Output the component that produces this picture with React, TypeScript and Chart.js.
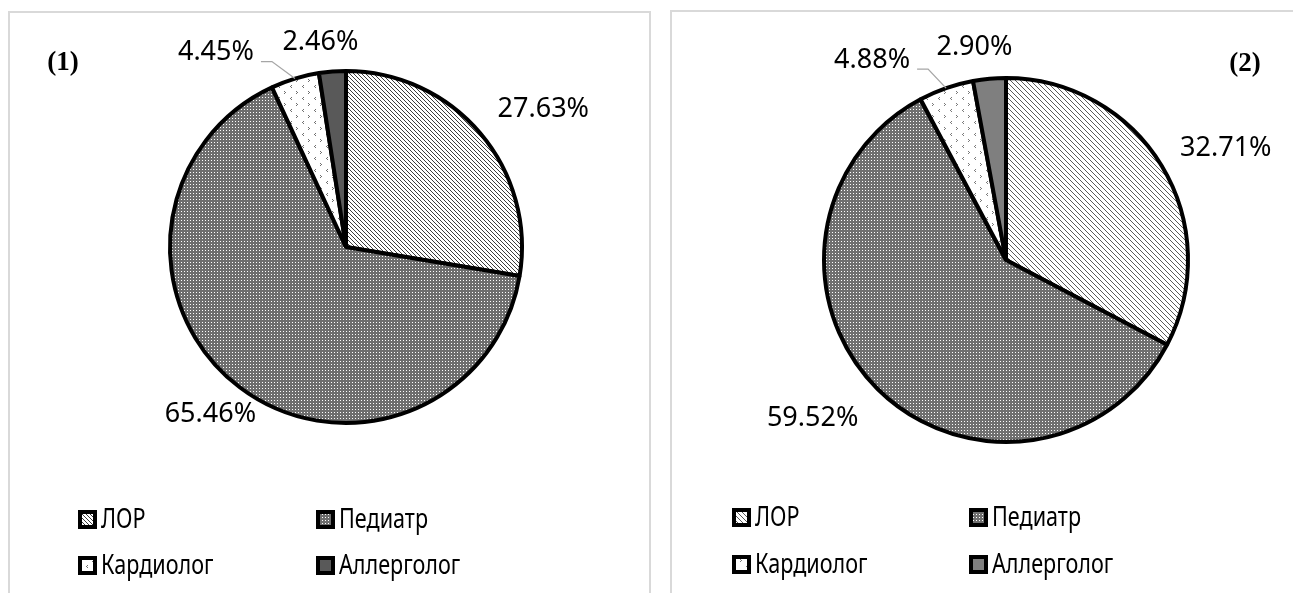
import React, { useEffect, useRef } from "react";
import { Chart, registerables } from "chart.js";

Chart.register(...registerables);

// ---- data ----
const categories = ["ЛОР", "Педиатр", "Кардиолог", "Аллерголог"];
const valuesChart1 = [27.63, 65.46, 4.45, 2.46];
const valuesChart2 = [32.71, 59.52, 4.88, 2.9];
const panelTitles = ["(1)", "(2)"];

type PatternKind = "diag" | "dots" | "chev" | "solid";

function makeTile(size: number, draw: (c: CanvasRenderingContext2D) => void) {
  const cv = document.createElement("canvas");
  cv.width = size;
  cv.height = size;
  const c = cv.getContext("2d")!;
  draw(c);
  return cv;
}

function makePattern(ctx: CanvasRenderingContext2D, kind: PatternKind, opt: { size?: number; fg?: string; bg?: string }) {
  const fg = opt.fg || "#555";
  const bg = opt.bg || "#fff";
  let tile: HTMLCanvasElement;
  if (kind === "diag") {
    const s = opt.size || 4;
    tile = makeTile(s, (c) => {
      c.fillStyle = bg;
      c.fillRect(0, 0, s, s);
      c.fillStyle = fg;
      for (let i = 0; i < s; i++) c.fillRect(i, i, 1, 1);
    });
  } else if (kind === "dots") {
    tile = makeTile(3, (c) => {
      c.fillStyle = bg;
      c.fillRect(0, 0, 3, 3);
      c.fillStyle = "#ffffff";
      c.fillRect(1, 1, 1, 1);
    });
  } else if (kind === "chev") {
    tile = makeTile(12, (c) => {
      c.fillStyle = bg;
      c.fillRect(0, 0, 12, 12);
      c.fillStyle = fg;
      c.fillRect(3, 1, 1, 1);
      c.fillRect(2, 2, 1, 1);
      c.fillRect(3, 3, 1, 1);
      c.fillRect(8, 7, 1, 1);
      c.fillRect(9, 8, 1, 1);
      c.fillRect(8, 9, 1, 1);
    });
  } else {
    return fg;
  }
  return ctx.createPattern(tile, "repeat") as CanvasPattern;
}

type PanelCfg = {
  values: number[];
  title: string;
  titlePos: [number, number];
  canvasLeft: number;
  width: number;
  height: number;
  radius: number;
  padding: { left: number; right: number; top: number; bottom: number };
  patterns: { kind: PatternKind; size?: number; fg?: string; bg?: string }[];
  labelOffsets: [number, number][];
  legendCols: [number, number];
  legendRows: [number, number];
};

const panels: PanelCfg[] = [
  {
    values: valuesChart1,
    title: panelTitles[0],
    titlePos: [63, 63],
    canvasLeft: 0,
    width: 660,
    height: 593,
    radius: 176,
    padding: { left: 146, right: 114, top: 47, bottom: 146 },
    patterns: [
      { kind: "diag", size: 4, fg: "#3c3c3c", bg: "#ffffff" },
      { kind: "dots", bg: "#6e6e6e" },
      { kind: "chev", fg: "#6f6f6f", bg: "#ffffff" },
      { kind: "solid", fg: "#595959" },
    ],
    labelOffsets: [
      [63, -24],
      [-29, 27],
      [-79, -26],
      [-12, -29],
    ],
    legendCols: [78, 316],
    legendRows: [520, 566],
  },
  {
    values: valuesChart2,
    title: panelTitles[1],
    titlePos: [585, 64],
    canvasLeft: 660,
    width: 633,
    height: 593,
    radius: 182,
    padding: { left: 146, right: 87, top: 60, bottom: 133 },
    patterns: [
      { kind: "diag", size: 5, fg: "#5a5a5a", bg: "#ffffff" },
      { kind: "dots", bg: "#707070" },
      { kind: "chev", fg: "#7a7a7a", bg: "#ffffff" },
      { kind: "solid", fg: "#7f7f7f" },
    ],
    labelOffsets: [
      [64, -18],
      [-65, 29],
      [-74, -28],
      [-15, -31],
    ],
    legendCols: [72, 309],
    legendRows: [518, 565],
  },
];

const LABEL_FONT = "27px 'Noto Sans', sans-serif";
const LEGEND_FONT = "27px 'Noto Sans', sans-serif";
const TITLE_FONT = "bold 27px 'Liberation Serif', 'Times New Roman', serif";

function PiePanel({ cfg }: { cfg: PanelCfg }) {
  const ref = useRef<HTMLCanvasElement>(null);
  useEffect(() => {
    const canvas = ref.current!;
    const ctx = canvas.getContext("2d")!;
    const fills = cfg.patterns.map((p) => makePattern(ctx, p.kind, p));

    const decorPlugin = {
      id: "decor",
      afterDatasetsDraw(chart: any) {
        const c: CanvasRenderingContext2D = chart.ctx;
        const meta = chart.getDatasetMeta(0);
        c.save();
        c.font = LABEL_FONT;
        c.fillStyle = "#000";
        c.textAlign = "center";
        c.textBaseline = "middle";
        meta.data.forEach((arc: any, i: number) => {
          const p = arc.getProps(["x", "y", "startAngle", "endAngle", "outerRadius"], true);
          const mid = (p.startAngle + p.endAngle) / 2;
          const ax = p.x + Math.cos(mid) * p.outerRadius;
          const ay = p.y + Math.sin(mid) * p.outerRadius;
          const [dx, dy] = cfg.labelOffsets[i];
          const lx = ax + dx;
          const ly = ay + dy;
          const txt = cfg.values[i].toFixed(2) + "%";
          c.fillText(txt, lx, ly);
          if (i === 2) {
            const w = c.measureText(txt).width;
            const sx = lx + w / 2 + 7;
            const sy = ly + 9;
            c.beginPath();
            c.strokeStyle = "#a6a6a6";
            c.lineWidth = 1.3;
            c.moveTo(sx, sy);
            c.lineTo(sx + 11, sy);
            c.lineTo(ax, ay);
            c.stroke();
          }
        });
        c.restore();

        // title
        c.save();
        c.font = TITLE_FONT;
        c.fillStyle = "#000";
        c.textAlign = "center";
        c.textBaseline = "middle";
        c.fillText(cfg.title, cfg.titlePos[0], cfg.titlePos[1]);
        c.restore();

        // legend (2 x 2 grid)
        c.save();
        categories.forEach((name, i) => {
          const x = cfg.legendCols[i % 2];
          const cy = cfg.legendRows[Math.floor(i / 2)];
          c.fillStyle = fills[i] as any;
          c.fillRect(x + 2, cy - 8, 15, 15);
          c.lineWidth = 4;
          c.strokeStyle = "#000";
          c.strokeRect(x + 2, cy - 8, 15, 15);
          c.save();
          c.translate(x + 23, cy);
          c.scale(0.8, 1);
          c.font = LEGEND_FONT;
          c.fillStyle = "#000";
          c.textAlign = "left";
          c.textBaseline = "middle";
          c.fillText(name, 0, 0);
          c.restore();
        });
        c.restore();
      },
    };

    const chart = new Chart(canvas, {
      type: "pie",
      data: {
        labels: categories,
        datasets: [
          {
            data: cfg.values,
            backgroundColor: fills as any,
            borderColor: "#000",
            borderWidth: 4,
            radius: cfg.radius,
          } as any,
        ],
      },
      options: {
        animation: false,
        responsive: false,
        devicePixelRatio: 1,
        events: [],
        layout: { padding: cfg.padding },
        plugins: {
          legend: { display: false },
          tooltip: { enabled: false },
        },
      },
      plugins: [decorPlugin as any],
    });
    return () => chart.destroy();
  }, [cfg]);

  return (
    <canvas
      ref={ref}
      width={cfg.width}
      height={cfg.height}
      style={{ position: "absolute", left: cfg.canvasLeft, top: 0, width: cfg.width, height: cfg.height }}
    />
  );
}

export default function App() {
  return (
    <div
      style={{
        position: "fixed",
        left: 0,
        top: 0,
        width: 1293,
        height: 593,
        background: "#fff",
        overflow: "hidden",
      }}
    >
      <div
        style={{
          position: "absolute",
          left: 8,
          top: 11,
          width: 639,
          height: 640,
          border: "2px solid #d9d9d9",
          borderBottom: "none",
        }}
      />
      <div
        style={{
          position: "absolute",
          left: 670,
          top: 10,
          width: 700,
          height: 640,
          border: "2px solid #d9d9d9",
          borderBottom: "none",
        }}
      />
      {panels.map((p, i) => (
        <PiePanel key={i} cfg={p} />
      ))}
    </div>
  );
}
